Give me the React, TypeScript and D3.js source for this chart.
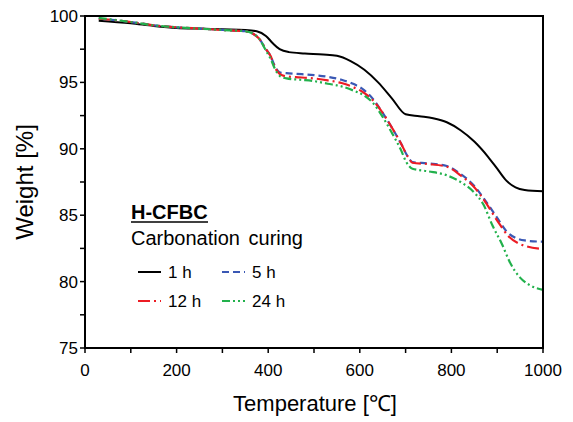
import React from "react";
import * as d3 from "d3";

// TGA curves
const temp1h = [30, 100, 150, 200, 250, 300, 350, 375, 395, 410, 425, 445, 480, 520, 550, 580, 610, 640, 670, 700, 730, 760, 790, 820, 850, 880, 900, 920, 940, 960, 1000];
const weight1h = [99.65, 99.45, 99.25, 99.1, 99.05, 99.0, 98.95, 98.85, 98.5, 97.95, 97.5, 97.28, 97.18, 97.1, 97.0, 96.6, 95.95, 95.0, 93.8, 92.6, 92.45, 92.3, 92.0, 91.4, 90.55, 89.4, 88.5, 87.6, 87.1, 86.9, 86.8];

const temp5h = [30, 100, 150, 200, 250, 300, 350, 365, 380, 395, 405, 415, 425, 440, 460, 500, 530, 560, 585, 610, 630, 650, 670, 690, 705, 715, 750, 790, 820, 850, 870, 900, 920, 940, 960, 1000];
const weight5h = [99.8, 99.55, 99.3, 99.15, 99.05, 98.95, 98.85, 98.7, 98.3, 97.5, 97.0, 96.2, 95.75, 95.7, 95.65, 95.55, 95.42, 95.2, 94.9, 94.4, 93.7, 92.7, 91.6, 90.4, 89.4, 89.0, 88.9, 88.7, 88.1, 87.2, 86.3, 84.8, 83.8, 83.3, 83.1, 83.0];

const temp12h = [30, 100, 150, 200, 250, 300, 350, 365, 380, 395, 405, 415, 425, 440, 460, 500, 530, 560, 585, 610, 630, 650, 670, 690, 705, 715, 750, 790, 820, 850, 870, 900, 925, 945, 965, 1000];
const weight12h = [99.8, 99.55, 99.3, 99.15, 99.05, 98.95, 98.85, 98.7, 98.3, 97.5, 97.0, 96.1, 95.65, 95.45, 95.4, 95.3, 95.15, 94.95, 94.65, 94.2, 93.6, 92.7, 91.6, 90.4, 89.4, 88.95, 88.85, 88.65, 88.0, 87.1, 86.2, 84.6, 83.4, 82.9, 82.65, 82.45];

const temp24h = [30, 100, 150, 200, 250, 300, 350, 365, 380, 395, 405, 415, 425, 440, 470, 500, 530, 560, 585, 610, 630, 650, 670, 690, 700, 715, 750, 790, 820, 850, 870, 890, 910, 930, 950, 970, 1000];
const weight24h = [99.85, 99.55, 99.3, 99.15, 99.05, 98.95, 98.85, 98.7, 98.3, 97.4, 96.8, 96.0, 95.5, 95.3, 95.2, 95.1, 94.9, 94.7, 94.4, 94.0, 93.4, 92.4, 91.2, 89.9, 89.1, 88.5, 88.3, 88.0, 87.5, 86.7, 85.8, 84.2, 82.85, 81.3, 80.3, 79.75, 79.38];

const seriesLabels = ["1 h", "5 h", "12 h", "24 h"];
const seriesColors = ["#000000", "#3a58b4", "#ec1c24", "#22b14c"];
const seriesDash = ["none", "7,4", "12,4,2,4", "8,3,2,3,2,3"];

const xTicks = [0, 200, 400, 600, 800, 1000];
const xMinor = [100, 300, 500, 700, 900];
const yTicks = [75, 80, 85, 90, 95, 100];
const yMinor = [77.5, 82.5, 87.5, 92.5, 97.5];

const FONT = "'Liberation Sans', Arial, sans-serif";

export default function App() {
  const width = 573;
  const height = 422;
  const margin = { top: 16, right: 30, bottom: 74, left: 85 };

  const x = d3.scaleLinear().domain([0, 1000]).range([margin.left, width - margin.right]);
  const y = d3.scaleLinear().domain([75, 100]).range([height - margin.bottom, margin.top]);

  const line = d3
    .line<[number, number]>()
    .x((d) => x(d[0]))
    .y((d) => y(d[1]))
    .curve(d3.curveMonotoneX);

  const series = [
    { t: temp1h, w: weight1h },
    { t: temp5h, w: weight5h },
    { t: temp12h, w: weight12h },
    { t: temp24h, w: weight24h },
  ].map((s, i) => ({
    label: seriesLabels[i],
    color: seriesColors[i],
    dash: seriesDash[i],
    points: s.t.map((t, j) => [t, s.w[j]] as [number, number]),
  }));

  const x0 = x(0);
  const x1 = x(1000);
  const y0 = y(75);
  const y1 = y(100);

  // legend layout
  const legendRows = [
    { items: [0, 1], ly: 272 },
    { items: [2, 3], ly: 301 },
  ];
  const legendCols = [138, 222];

  return (
    <div style={{ position: "absolute", left: 0, top: 0 }}>
      <svg width={width} height={height} style={{ display: "block", background: "#fff" }} fontFamily={FONT}>
        {/* curves */}
        {series.map((s) => (
          <path
            key={s.label}
            d={line(s.points) || ""}
            fill="none"
            stroke={s.color}
            strokeWidth={s.label === "1 h" ? 2 : 2.2}
            strokeDasharray={s.dash}
          />
        ))}

        {/* frame */}
        <rect x={x0} y={y1} width={x1 - x0} height={y0 - y1} fill="none" stroke="#000" strokeWidth={2} />

        {/* x ticks */}
        {xTicks.concat(xMinor).map((t) => (
          <line key={"xt" + t} x1={x(t)} x2={x(t)} y1={y0} y2={y0 + 5} stroke="#000" strokeWidth={1.5} />
        ))}
        {xTicks.map((t) => (
          <text key={"xl" + t} x={x(t)} y={376} textAnchor="middle" fontSize={17} fill="#000">
            {t}
          </text>
        ))}

        {/* y ticks */}
        {yTicks.concat(yMinor).map((t) => (
          <line key={"yt" + t} x1={x0 - 5} x2={x0} y1={y(t)} y2={y(t)} stroke="#000" strokeWidth={1.5} />
        ))}
        {yTicks.map((t) => (
          <text key={"yl" + t} x={78} y={y(t)} dy="0.35em" textAnchor="end" fontSize={17} fill="#000">
            {t}
          </text>
        ))}

        {/* axis titles */}
        <text x={(x0 + x1) / 2 + 1} y={411} textAnchor="middle" fontSize={22} fill="#000">
          Temperature [℃]
        </text>
        <text transform={`translate(33,${(y0 + y1) / 2}) rotate(-90)`} textAnchor="middle" fontSize={24} fill="#000">
          Weight [%]
        </text>

        {/* annotation */}
        <text x={131} y={219} fontSize={20} fontWeight="bold" fill="#000">
          H-CFBC
        </text>
        <line x1={131} x2={208} y1={222} y2={222} stroke="#000" strokeWidth={1.5} />
        <text x={131} y={245} fontSize={20} fill="#000" wordSpacing={3}>
          Carbonation curing
        </text>

        {/* legend */}
        {legendRows.map((row) =>
          row.items.map((idx, c) => {
            const s = series[idx];
            const lx = legendCols[c];
            return (
              <g key={"lg" + idx}>
                <line x1={lx} x2={lx + 23} y1={row.ly} y2={row.ly} stroke={s.color} strokeWidth={2} strokeDasharray={s.dash} />
                <text x={lx + 30} y={row.ly + 6} fontSize={17} fill="#000">
                  {s.label}
                </text>
              </g>
            );
          })
        )}
      </svg>
    </div>
  );
}
